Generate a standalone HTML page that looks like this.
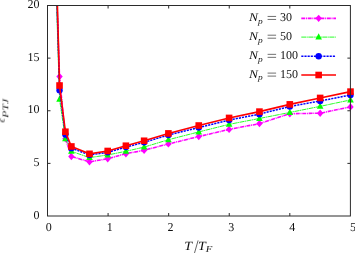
<!DOCTYPE html>
<html><head><meta charset="utf-8"><title>plot</title>
<style>
html,body{margin:0;padding:0;background:#fff;}
body{width:355px;height:254px;overflow:hidden;}
svg{display:block;}
text{font-family:"Liberation Serif",serif;fill:#111;text-rendering:geometricPrecision;}
</style></head><body>
<svg width="355" height="254" viewBox="0 0 355 254">
<defs><filter id="gs" x="-20%" y="-20%" width="140%" height="140%" color-interpolation-filters="sRGB"><feColorMatrix type="saturate" values="0"/></filter></defs>
<rect width="355" height="254" fill="#ffffff"/>

<polyline points="57.00,5.00 59.54,76.57 65.41,138.67 71.38,156.56 89.49,161.82 107.70,158.77 125.91,153.72 144.12,150.25 168.40,143.93 198.75,136.56 229.10,129.41 259.45,123.62 289.80,113.72 320.15,113.20 350.50,106.88" stroke="#ff00ff" stroke-width="1.55" stroke-dasharray="3.9,0.75,1.0,0.75" fill="none"/>
<path d="M56.34,76.57 L59.54,72.89 L62.74,76.57 L59.54,80.25 Z" fill="#ff00ff"/><path d="M62.21,138.67 L65.41,134.99 L68.61,138.67 L65.41,142.35 Z" fill="#ff00ff"/><path d="M68.18,156.56 L71.38,152.88 L74.58,156.56 L71.38,160.24 Z" fill="#ff00ff"/><path d="M86.29,161.82 L89.49,158.14 L92.69,161.82 L89.49,165.50 Z" fill="#ff00ff"/><path d="M104.50,158.77 L107.70,155.09 L110.90,158.77 L107.70,162.45 Z" fill="#ff00ff"/><path d="M122.71,153.72 L125.91,150.04 L129.11,153.72 L125.91,157.40 Z" fill="#ff00ff"/><path d="M140.92,150.25 L144.12,146.56 L147.32,150.25 L144.12,153.93 Z" fill="#ff00ff"/><path d="M165.20,143.93 L168.40,140.25 L171.60,143.93 L168.40,147.61 Z" fill="#ff00ff"/><path d="M195.55,136.56 L198.75,132.88 L201.95,136.56 L198.75,140.24 Z" fill="#ff00ff"/><path d="M225.90,129.41 L229.10,125.73 L232.30,129.41 L229.10,133.09 Z" fill="#ff00ff"/><path d="M256.25,123.62 L259.45,119.94 L262.65,123.62 L259.45,127.30 Z" fill="#ff00ff"/><path d="M286.60,113.72 L289.80,110.04 L293.00,113.72 L289.80,117.40 Z" fill="#ff00ff"/><path d="M316.95,113.20 L320.15,109.52 L323.35,113.20 L320.15,116.88 Z" fill="#ff00ff"/><path d="M347.30,106.88 L350.50,103.20 L353.70,106.88 L350.50,110.56 Z" fill="#ff00ff"/>
<polyline points="56.60,5.00 59.54,99.20 65.41,138.67 71.38,151.30 89.49,157.61 107.70,154.98 125.91,151.30 144.12,147.09 168.40,139.72 198.75,131.93 229.10,124.35 259.45,118.46 289.80,112.46 320.15,106.36 350.50,99.94" stroke="#00ff00" stroke-width="0.85" stroke-dasharray="4.7,0.5,1.3,0.5" fill="none"/>
<path d="M56.24,101.67 L62.84,101.67 L59.54,95.40 Z" fill="#00ff00"/><path d="M62.11,141.14 L68.71,141.14 L65.41,134.87 Z" fill="#00ff00"/><path d="M68.08,153.77 L74.68,153.77 L71.38,147.50 Z" fill="#00ff00"/><path d="M86.19,160.09 L92.79,160.09 L89.49,153.82 Z" fill="#00ff00"/><path d="M104.40,157.46 L111.00,157.46 L107.70,151.19 Z" fill="#00ff00"/><path d="M122.61,153.77 L129.21,153.77 L125.91,147.50 Z" fill="#00ff00"/><path d="M140.82,149.56 L147.42,149.56 L144.12,143.29 Z" fill="#00ff00"/><path d="M165.10,142.19 L171.70,142.19 L168.40,135.93 Z" fill="#00ff00"/><path d="M195.45,134.41 L202.05,134.41 L198.75,128.14 Z" fill="#00ff00"/><path d="M225.80,126.83 L232.40,126.83 L229.10,120.56 Z" fill="#00ff00"/><path d="M256.15,120.93 L262.75,120.93 L259.45,114.66 Z" fill="#00ff00"/><path d="M286.50,114.94 L293.10,114.94 L289.80,108.67 Z" fill="#00ff00"/><path d="M316.85,108.83 L323.45,108.83 L320.15,102.56 Z" fill="#00ff00"/><path d="M347.20,102.41 L353.80,102.41 L350.50,96.14 Z" fill="#00ff00"/>
<polyline points="57.10,5.00 59.54,90.25 65.41,134.46 71.38,148.14 89.49,154.98 107.70,152.35 125.91,147.09 144.12,142.35 168.40,134.98 198.75,127.62 229.10,120.04 259.45,114.14 289.80,106.46 320.15,100.99 350.50,94.99" stroke="#0000ff" stroke-width="1.5" stroke-dasharray="2.15,1.0" fill="none"/>
<circle cx="59.54" cy="90.25" r="3.2" fill="#0000ff"/><circle cx="65.41" cy="134.46" r="3.2" fill="#0000ff"/><circle cx="71.38" cy="148.14" r="3.2" fill="#0000ff"/><circle cx="89.49" cy="154.98" r="3.2" fill="#0000ff"/><circle cx="107.70" cy="152.35" r="3.2" fill="#0000ff"/><circle cx="125.91" cy="147.09" r="3.2" fill="#0000ff"/><circle cx="144.12" cy="142.35" r="3.2" fill="#0000ff"/><circle cx="168.40" cy="134.98" r="3.2" fill="#0000ff"/><circle cx="198.75" cy="127.62" r="3.2" fill="#0000ff"/><circle cx="229.10" cy="120.04" r="3.2" fill="#0000ff"/><circle cx="259.45" cy="114.14" r="3.2" fill="#0000ff"/><circle cx="289.80" cy="106.46" r="3.2" fill="#0000ff"/><circle cx="320.15" cy="100.99" r="3.2" fill="#0000ff"/><circle cx="350.50" cy="94.99" r="3.2" fill="#0000ff"/>
<polyline points="57.40,5.00 59.54,85.52 65.41,131.72 71.38,146.46 89.49,153.82 107.70,150.98 125.91,145.72 144.12,140.77 168.40,133.41 198.75,125.51 229.10,117.93 259.45,111.62 289.80,104.36 320.15,97.94 350.50,91.62" stroke="#ff0000" stroke-width="1.6" fill="none"/>
<rect x="56.24" y="82.22" width="6.60" height="6.60" fill="#ff0000"/><rect x="62.11" y="128.42" width="6.60" height="6.60" fill="#ff0000"/><rect x="68.08" y="143.16" width="6.60" height="6.60" fill="#ff0000"/><rect x="86.19" y="150.52" width="6.60" height="6.60" fill="#ff0000"/><rect x="104.40" y="147.68" width="6.60" height="6.60" fill="#ff0000"/><rect x="122.61" y="142.42" width="6.60" height="6.60" fill="#ff0000"/><rect x="140.82" y="137.47" width="6.60" height="6.60" fill="#ff0000"/><rect x="165.10" y="130.10" width="6.60" height="6.60" fill="#ff0000"/><rect x="195.45" y="122.21" width="6.60" height="6.60" fill="#ff0000"/><rect x="225.80" y="114.63" width="6.60" height="6.60" fill="#ff0000"/><rect x="256.15" y="108.32" width="6.60" height="6.60" fill="#ff0000"/><rect x="286.50" y="101.06" width="6.60" height="6.60" fill="#ff0000"/><rect x="316.85" y="94.64" width="6.60" height="6.60" fill="#ff0000"/><rect x="347.20" y="88.32" width="6.60" height="6.60" fill="#ff0000"/>
<line x1="301.3" y1="18.35" x2="336.0" y2="18.35" stroke="#ff00ff" stroke-width="1.55" stroke-dasharray="3.9,0.75,1.0,0.75" fill="none"/><path d="M315.45,18.35 L318.65,14.67 L321.85,18.35 L318.65,22.03 Z" fill="#ff00ff"/>
<line x1="301.3" y1="37.1" x2="336.0" y2="37.1" stroke="#00ff00" stroke-width="0.85" stroke-dasharray="4.7,0.5,1.3,0.5" fill="none"/><path d="M315.35,39.58 L321.95,39.58 L318.65,33.30 Z" fill="#00ff00"/>
<line x1="301.3" y1="56.25" x2="336.0" y2="56.25" stroke="#0000ff" stroke-width="1.5" stroke-dasharray="2.15,1.0" fill="none"/><circle cx="318.65" cy="56.25" r="3.2" fill="#0000ff"/>
<line x1="301.3" y1="75.0" x2="336.0" y2="75.0" stroke="#ff0000" stroke-width="1.6" fill="none"/><rect x="315.35" y="71.70" width="6.60" height="6.60" fill="#ff0000"/>
<text filter="url(#gs)" transform="translate(248.90,21.45) scale(1.13,1)" font-size="12" text-anchor="start" fill="#383838" font-style="italic">N</text>
<text filter="url(#gs)" transform="translate(258.00,23.75) scale(1.1,1)" font-size="8.5" text-anchor="start" fill="#383838" font-style="italic">p</text>
<path d="M267.6,16.45 H276.1 M267.6,19.45 H276.1" stroke="#333" stroke-width="0.7" fill="none"/>
<text filter="url(#gs)" transform="translate(280.00,21.45) scale(1.0,1)" font-size="12" text-anchor="start" fill="#383838">30</text>
<text filter="url(#gs)" transform="translate(248.90,40.20) scale(1.13,1)" font-size="12" text-anchor="start" fill="#383838" font-style="italic">N</text>
<text filter="url(#gs)" transform="translate(258.00,42.50) scale(1.1,1)" font-size="8.5" text-anchor="start" fill="#383838" font-style="italic">p</text>
<path d="M267.6,35.20 H276.1 M267.6,38.20 H276.1" stroke="#333" stroke-width="0.7" fill="none"/>
<text filter="url(#gs)" transform="translate(280.00,40.20) scale(1.0,1)" font-size="12" text-anchor="start" fill="#383838">50</text>
<text filter="url(#gs)" transform="translate(248.90,59.35) scale(1.13,1)" font-size="12" text-anchor="start" fill="#383838" font-style="italic">N</text>
<text filter="url(#gs)" transform="translate(258.00,61.65) scale(1.1,1)" font-size="8.5" text-anchor="start" fill="#383838" font-style="italic">p</text>
<path d="M267.6,54.35 H276.1 M267.6,57.35 H276.1" stroke="#333" stroke-width="0.7" fill="none"/>
<text filter="url(#gs)" transform="translate(280.00,59.35) scale(1.0,1)" font-size="12" text-anchor="start" fill="#383838">100</text>
<text filter="url(#gs)" transform="translate(248.90,78.10) scale(1.13,1)" font-size="12" text-anchor="start" fill="#383838" font-style="italic">N</text>
<text filter="url(#gs)" transform="translate(258.00,80.40) scale(1.1,1)" font-size="8.5" text-anchor="start" fill="#383838" font-style="italic">p</text>
<path d="M267.6,73.10 H276.1 M267.6,76.10 H276.1" stroke="#333" stroke-width="0.7" fill="none"/>
<text filter="url(#gs)" transform="translate(280.00,78.10) scale(1.0,1)" font-size="12" text-anchor="start" fill="#383838">150</text>
<rect x="47.5" y="5.5" width="302.9" height="210.5" stroke="#2b2b2b" stroke-width="1" fill="none"/>
<line x1="108.08" y1="216.0" x2="108.08" y2="213.0" stroke="#2b2b2b" stroke-width="1" fill="none"/><line x1="108.08" y1="5.5" x2="108.08" y2="8.5" stroke="#2b2b2b" stroke-width="1" fill="none"/>
<line x1="168.66" y1="216.0" x2="168.66" y2="213.0" stroke="#2b2b2b" stroke-width="1" fill="none"/><line x1="168.66" y1="5.5" x2="168.66" y2="8.5" stroke="#2b2b2b" stroke-width="1" fill="none"/>
<line x1="229.24" y1="216.0" x2="229.24" y2="213.0" stroke="#2b2b2b" stroke-width="1" fill="none"/><line x1="229.24" y1="5.5" x2="229.24" y2="8.5" stroke="#2b2b2b" stroke-width="1" fill="none"/>
<line x1="289.82" y1="216.0" x2="289.82" y2="213.0" stroke="#2b2b2b" stroke-width="1" fill="none"/><line x1="289.82" y1="5.5" x2="289.82" y2="8.5" stroke="#2b2b2b" stroke-width="1" fill="none"/>
<line x1="47.5" y1="163.38" x2="50.5" y2="163.38" stroke="#2b2b2b" stroke-width="1" fill="none"/><line x1="350.4" y1="163.38" x2="347.4" y2="163.38" stroke="#2b2b2b" stroke-width="1" fill="none"/>
<line x1="47.5" y1="110.75" x2="50.5" y2="110.75" stroke="#2b2b2b" stroke-width="1" fill="none"/><line x1="350.4" y1="110.75" x2="347.4" y2="110.75" stroke="#2b2b2b" stroke-width="1" fill="none"/>
<line x1="47.5" y1="58.12" x2="50.5" y2="58.12" stroke="#2b2b2b" stroke-width="1" fill="none"/><line x1="350.4" y1="58.12" x2="347.4" y2="58.12" stroke="#2b2b2b" stroke-width="1" fill="none"/>
<text filter="url(#gs)" transform="translate(39.50,218.70) scale(1.0,1)" font-size="12" text-anchor="end" fill="#383838">0</text>
<text filter="url(#gs)" transform="translate(39.50,166.07) scale(1.0,1)" font-size="12" text-anchor="end" fill="#383838">5</text>
<text filter="url(#gs)" transform="translate(39.50,113.45) scale(1.0,1)" font-size="12" text-anchor="end" fill="#383838">10</text>
<text filter="url(#gs)" transform="translate(39.50,60.83) scale(1.0,1)" font-size="12" text-anchor="end" fill="#383838">15</text>
<text filter="url(#gs)" transform="translate(39.50,8.20) scale(1.0,1)" font-size="12" text-anchor="end" fill="#383838">20</text>
<text filter="url(#gs)" transform="translate(48.80,231.20) scale(1.0,1)" font-size="12" text-anchor="middle" fill="#383838">0</text>
<text filter="url(#gs)" transform="translate(109.65,231.20) scale(1.0,1)" font-size="12" text-anchor="middle" fill="#383838">1</text>
<text filter="url(#gs)" transform="translate(170.50,231.20) scale(1.0,1)" font-size="12" text-anchor="middle" fill="#383838">2</text>
<text filter="url(#gs)" transform="translate(231.35,231.20) scale(1.0,1)" font-size="12" text-anchor="middle" fill="#383838">3</text>
<text filter="url(#gs)" transform="translate(292.20,231.20) scale(1.0,1)" font-size="12" text-anchor="middle" fill="#383838">4</text>
<text filter="url(#gs)" transform="translate(353.05,231.20) scale(1.0,1)" font-size="12" text-anchor="middle" fill="#383838">5</text>
<text filter="url(#gs)" transform="translate(184.20,250.30) scale(1.12,1)" font-size="12.5" text-anchor="start" fill="#383838" font-style="italic">T</text>
<line x1="194.5" y1="253.0" x2="198.1" y2="240.4" stroke="#333" stroke-width="0.75"/>
<text filter="url(#gs)" transform="translate(198.00,250.30) scale(1.12,1)" font-size="12.5" text-anchor="start" fill="#383838" font-style="italic">T</text>
<text filter="url(#gs)" transform="translate(205.80,252.40) scale(1.15,1)" font-size="9.3" text-anchor="start" fill="#383838" font-style="italic">F</text>
<g transform="translate(4.7,122.4) rotate(-90)"><text filter="url(#gs)" transform="translate(0.00,0.00) scale(1.0,1)" font-size="10" text-anchor="start" fill="#383838" font-style="italic">ϵ</text><text filter="url(#gs)" transform="translate(4.60,3.60) scale(1.38,1)" font-size="8.5" text-anchor="start" fill="#383838" font-style="italic">PTJ</text></g>
</svg></body></html>
